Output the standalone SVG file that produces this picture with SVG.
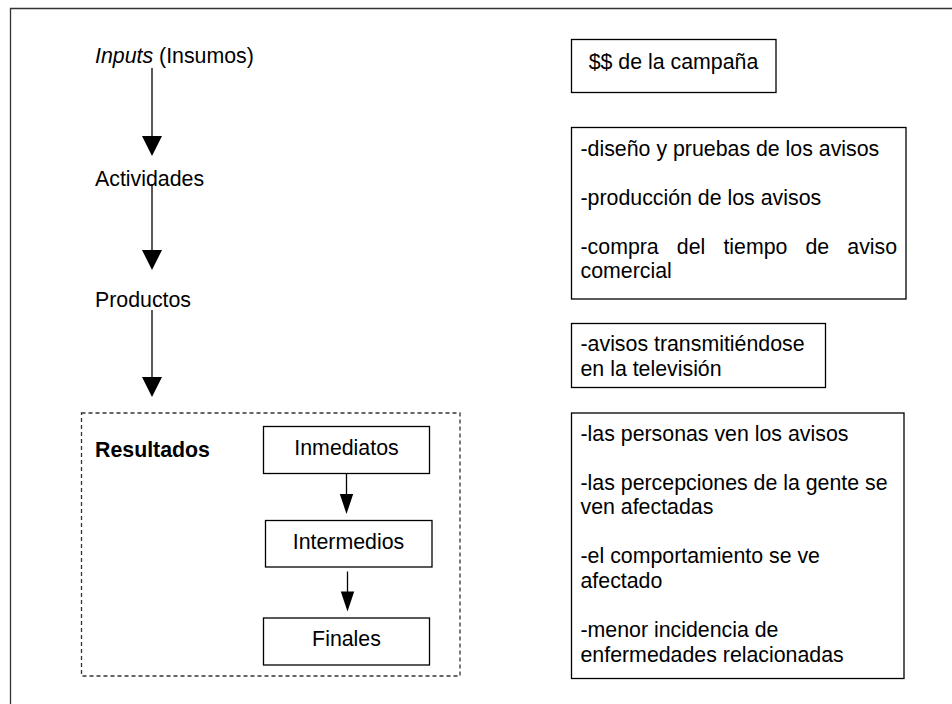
<svg xmlns="http://www.w3.org/2000/svg" width="952" height="704" viewBox="0 0 952 704">
<defs>
<style>
text{font-family:"Liberation Sans",Arial,sans-serif;font-size:21.33px;fill:#000}
.b{font-weight:bold}
.box{fill:#fff;stroke:#000;stroke-width:1.3}
.ln{stroke:#000;stroke-width:1.3;fill:none}
.head{fill:#000}
</style>
</defs>
<rect width="952" height="704" fill="#fff"/>
<path d="M10.5,704 V8.5 H952" fill="none" stroke="#333" stroke-width="1.3"/>

<g id="inputs"><text x="95" y="63"><tspan font-style="italic">Inputs</tspan> (Insumos)</text></g>
<g id="actividades"><text x="95" y="185.5">Actividades</text></g>
<g id="productos"><text x="95" y="307">Productos</text></g>

<g id="resultados">
<rect x="81.5" y="413" width="378.5" height="263" fill="none" stroke="#333" stroke-width="1.3" stroke-dasharray="4 3"/>
<text class="b" x="95" y="457">Resultados</text>
</g>
<g id="inmediatos"><rect class="box" x="263.5" y="426.5" width="166" height="47"/><text x="346.5" y="455" text-anchor="middle">Inmediatos</text></g>
<g id="intermedios"><rect class="box" x="265.5" y="520.5" width="166.5" height="46.5"/><text x="348.5" y="549" text-anchor="middle">Intermedios</text></g>
<g id="finales"><rect class="box" x="263.5" y="618" width="166" height="47"/><text x="346.5" y="645.5" text-anchor="middle">Finales</text></g>

<g id="connectors">
<line class="ln" x1="152" y1="68" x2="152" y2="137"/>
<polygon class="head" points="142,136 162,136 152,156"/>
<line class="ln" x1="152" y1="184" x2="152" y2="251"/>
<polygon class="head" points="142,250 162,250 152,270"/>
<line class="ln" x1="152" y1="310" x2="152" y2="378"/>
<polygon class="head" points="142,377 162,377 152,397"/>
<line class="ln" x1="346.5" y1="473.5" x2="346.5" y2="495"/>
<polygon class="head" points="339.8,494 353.2,494 346.5,514"/>
<line class="ln" x1="347.5" y1="571.5" x2="347.5" y2="592"/>
<polygon class="head" points="340.8,591.5 354.2,591.5 347.5,611.5"/>
</g>

<g id="campana"><rect class="box" x="571.5" y="39.5" width="204.5" height="53"/><text x="673.5" y="68.5" text-anchor="middle">$$ de la campaña</text></g>

<g id="actividades-detalle">
<rect class="box" x="571.5" y="127.5" width="334.5" height="171.5"/>
<text x="580.5" y="155.5">-diseño y pruebas de los avisos</text>
<text x="580.5" y="204.5">-producción de los avisos</text>
<text y="253.5"><tspan x="580.5">-compra</tspan><tspan x="676.8">del</tspan><tspan x="723.4">tiempo</tspan><tspan x="805.5">de</tspan><tspan x="847.3">aviso</tspan></text>
<text x="580.5" y="278">comercial</text>
</g>

<g id="productos-detalle">
<rect class="box" x="571.5" y="323.5" width="254" height="64"/>
<text x="580.5" y="351">-avisos transmitiéndose</text>
<text x="580.5" y="375.5">en la televisión</text>
</g>

<g id="resultados-detalle">
<rect class="box" x="571.5" y="413" width="332.5" height="265.5"/>
<text x="580.5" y="440.5">-las personas ven los avisos</text>
<text x="580.5" y="489.5">-las percepciones de la gente se</text>
<text x="580.5" y="514">ven afectadas</text>
<text x="580.5" y="563">-el comportamiento se ve</text>
<text x="580.5" y="587.5">afectado</text>
<text x="580.5" y="637">-menor incidencia de</text>
<text x="580.5" y="661.5">enfermedades relacionadas</text>
</g>
</svg>
